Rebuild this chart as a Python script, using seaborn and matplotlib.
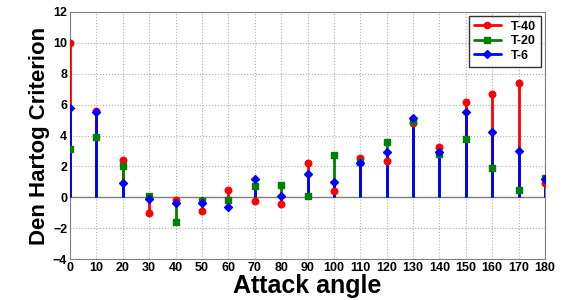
import numpy as np
import pandas as pd
import matplotlib
matplotlib.use("Agg")
import matplotlib.pyplot as plt
from matplotlib.lines import Line2D
import seaborn as sns

# datos
angulos = [0, 10, 20, 30, 40, 50, 60, 70, 80, 90, 100, 110, 120, 130, 140, 150, 160, 170, 180]
t40 = [10.0, 5.6, 2.4, -1.0, -0.2, -0.9, 0.45, -0.25, -0.45, 2.25, 0.4, 2.55, 2.35, 4.8, 3.25, 6.2, 6.7, 7.4, 0.95]
t20 = [3.1, 3.9, 2.0, 0.05, -1.6, -0.25, -0.2, 0.75, 0.8, 0.1, 2.75, 2.3, 3.6, 4.95, 2.8, 3.75, 1.9, 0.45, 1.25]
t6 = [5.8, 5.5, 0.9, -0.1, -0.4, -0.4, -0.6, 1.15, 0.05, 1.5, 1.0, 2.2, 2.9, 5.15, 2.9, 5.5, 4.2, 3.0, 1.15]
series = ["T-40", "T-20", "T-6"]
colores = {"T-40": "#ff0000", "T-20": "#008000", "T-6": "#0000ff"}
marcadores = {"T-40": "o", "T-20": "s", "T-6": "D"}

datos = pd.DataFrame({"Angulo": angulos * 3,
                      "Valor": t40 + t20 + t6,
                      "Serie": np.repeat(series, len(angulos))})

sns.set_style("white")
plt.rcParams["font.family"] = ["Liberation Sans", "DejaVu Sans"]
plt.rcParams["text.color"] = "black"
plt.rcParams["axes.labelcolor"] = "black"
plt.rcParams["xtick.color"] = "black"
plt.rcParams["ytick.color"] = "black"

fig = plt.figure(figsize=(5.64, 3.0), dpi=100)
ax = fig.add_axes([70 / 564, 41 / 300, 475 / 564, 247 / 300])

for s in series:
    d = datos[datos["Serie"] == s]
    ax.vlines(d["Angulo"], 0, d["Valor"], color=colores[s], lw=2, zorder=3)
    sns.scatterplot(data=d, x="Angulo", y="Valor", color=colores[s], marker=marcadores[s],
                    s=22 if s != "T-6" else 16, edgecolor=colores[s], linewidth=1, ax=ax,
                    zorder=4, legend=False)

ax.axhline(0, color="#808080", lw=1, zorder=2)
ax.set_xlim(0, 180)
ax.set_ylim(-4, 12)
ax.set_xticks(angulos)
ax.set_yticks(range(-4, 13, 2))
ax.grid(True, ls=":", color="#b0b0b0", lw=0.8)
ax.tick_params(axis="both", labelsize=9, length=3, direction="in", pad=2)
for lab in ax.get_xticklabels() + ax.get_yticklabels():
    lab.set_fontweight("bold")
for sp in ax.spines.values():
    sp.set_color("#808080")
ax.set_xlabel("Attack angle", fontsize=18, fontweight="bold", labelpad=0)
ax.set_ylabel("Den Hartog Criterion", fontsize=16, fontweight="bold", labelpad=2)

handles = [Line2D([0], [0], color=colores[s], lw=2, marker=marcadores[s], markersize=4.5) for s in series]
leg = ax.legend(handles, series, loc="upper right", prop={"weight": "bold", "size": 9},
                frameon=True, fancybox=False, edgecolor="black", handlelength=2.2,
                borderaxespad=0.3, labelspacing=0.2)

fig.savefig("out.png", dpi=100)
